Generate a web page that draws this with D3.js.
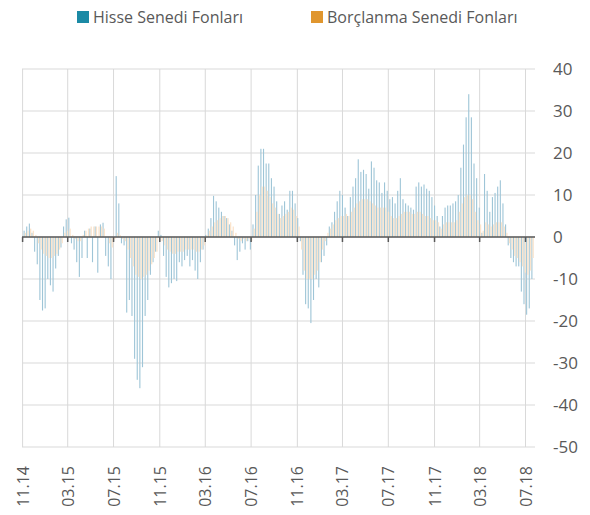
<html>
  <head>
    <script src="https://d3js.org/d3.v7.min.js"></script>
    <style>
      body { margin: 0; background: #fff; }
      text { font-family: "Open Sans", sans-serif; fill: #595959; }
    </style>
  </head>
  <body>
    <svg id="chart" width="590" height="515"></svg>
    <script>
      // weekly net flows, Hisse Senedi Fonlari (equity funds)
      const hisse = [
        1.5, 2.5, 3.2, 1, -3.5, -6.5, -15, -17.5, -17, -10,
        -11.5, -13, -7.5, -4.5, -2.5, 2.5, 4.2, 4.6, -1.5, -3,
        -6, -9.5, -5, 1.5, -5, 2, -6, 2.5, -8.5, 3,
        3.4, -4.5, -7, -10, -1, 14.5, 8, -1.5, -2, -18,
        -15, -18.8, -29, -34, -36, -31, -18.8, -15, -9, -6,
        -3.5, 1.5, 0.5, -4.5, -9.5, -12, -11, -10, -10.5, -6,
        -7, -5.5, -4.5, -7, -5.5, -8, -10, -6, -3, 0.5,
        2, 4.5, 9.8, 8.5, 7, 6, 5, 4.5, 3, 1.5,
        -2, -5.5, -3.5, -1.5, -3, -1, -3, 3, 10, 17,
        21, 21, 17.5, 17.5, 14, 12, 8.5, 5.5, 7.5, 8.5,
        6.5, 11, 11, 8, 4.5, -1, -9, -16, -17, -20.5,
        -15, -10, -12, -6, -4.5, -2, 2.5, 3.5, 6, 8.5,
        11, 10, 7, 5, 9.5, 12, 14, 18.5, 15.5, 16,
        15, 11.5, 18, 16.5, 13.5, 13, 10.5, 13, 11, 9,
        9.5, 8, 11, 14, 9, 8, 7.5, 7, 6.5, 12,
        13, 12, 12.5, 11.5, 11, 9.5, 7.5, 5, 2.5, 5,
        7, 7.5, 7.5, 8, 8.5, 10, 16.5, 22, 28.5, 34,
        28.5, 17.5, 14, 7, 1, 15, 11, 6, 9.5, 10.5,
        12, 13.5, 8, 3, -2, -5, -6, -7, -7, -13,
        -16, -18.5, -17, -10
      ];

      // weekly net flows, Borclanma Senedi Fonlari (debt funds)
      const borclanma = [
        1, 1.5, 2, 1.5, 0.5, -1.5, -3, -4, -4.5, -5,
        -5, -4.5, -4, -3, -1.5, 1, 1.5, 2, 0.5, -0.5,
        -1, -1, 0.5, 1.5, 2, 2.5, 2.5, 2.5, 2.5, 2.5,
        2, 0, -1.5, -2.5, -0.5, 1, 0.5, -0.5, -1, -3,
        -5, -7, -9, -9.5, -10, -9.5, -9, -8, -6.5, -5,
        -3.5, -1, -1, -2, -3, -3.5, -4, -4, -3.5, -3.5,
        -3.5, -3, -3, -3, -3, -3.5, -3.5, -3, -2, 0.5,
        1.5, 2.5, 3.5, 4, 4.5, 5, 5, 4.5, 3.5, 2.5,
        1, -0.5, -1, -0.5, -1, -0.5, -1, 2, 6, 10,
        12, 12, 11, 9.5, 8, 7, 5.5, 4.5, 5, 5.5,
        6, 7, 6.5, 5, 2.5, -3, -8, -10, -10, -10,
        -9, -8, -6, -3, -1, 1, 2, 3, 4, 4.5,
        5, 5, 5.5, 5, 6, 7, 8, 8.5, 9, 9,
        9, 8.5, 8, 7.5, 7, 7, 7, 7, 6, 5,
        4.5, 4.5, 5, 5.5, 6, 6, 6, 5.5, 5.5, 6,
        6, 5.5, 5, 5, 4.5, 4, 4, 3.5, 2, 3,
        3.5, 3.5, 3.5, 3.5, 4, 6, 8, 9.5, 10, 10,
        9, 6, 4, 3, 1.5, 3.5, 3, 2.5, 3, 3.5,
        3.5, 3.5, 2.5, 1, -1.5, -3, -4.5, -5, -6, -7,
        -8.5, -9, -8, -5
      ];

      // one bar pair per week (Fridays), starting 7 Nov 2014
      const weeks = d3.timeFriday
        .range(new Date(2014, 10, 7), new Date(2018, 7, 1))
        .slice(0, hisse.length);

      const xTicks = [
        "11.14", "03.15", "07.15", "11.15", "03.16", "07.16",
        "11.16", "03.17", "07.17", "11.17", "03.18", "07.18"
      ];
      const yTicks = [40, 30, 20, 10, 0, -10, -20, -30, -40, -50];
      const seriesNames = ["Hisse Senedi Fonları", "Borçlanma Senedi Fonları"];

      const svg = d3.select("#chart");
      const plot = { left: 22, right: 535, top: 69, bottom: 447 };

      const parseTick = d3.timeParse("%m.%y");
      const x = d3
        .scaleTime()
        .domain([new Date(2014, 10, 1), new Date(2018, 6, 1)])
        .range([22.6, 525.5]);
      const y = d3.scaleLinear().domain([-50, 40]).range([plot.bottom, plot.top]);

      // gridlines
      svg
        .selectAll("line.hgrid")
        .data(yTicks)
        .join("line")
        .attr("class", "hgrid")
        .attr("x1", plot.left)
        .attr("x2", plot.right)
        .attr("y1", (d) => y(d))
        .attr("y2", (d) => y(d))
        .attr("stroke", "#d9d9d9")
        .attr("stroke-width", 1);

      svg
        .selectAll("line.vgrid")
        .data(xTicks)
        .join("line")
        .attr("class", "vgrid")
        .attr("x1", (d) => x(parseTick(d)))
        .attr("x2", (d) => x(parseTick(d)))
        .attr("y1", plot.top)
        .attr("y2", plot.bottom)
        .attr("stroke", "#d9d9d9")
        .attr("stroke-width", 1);

      // bars: equity on the left half of each week, debt on the right half
      const bars = svg.append("g");
      bars
        .selectAll("rect.h")
        .data(hisse)
        .join("rect")
        .attr("class", "h")
        .attr("x", (d, i) => x(weeks[i]) - 1.3)
        .attr("width", 1.1)
        .attr("y", (d) => Math.min(y(d), y(0)))
        .attr("height", (d) => Math.abs(y(d) - y(0)))
        .attr("fill", "#9ec5d7");

      bars
        .selectAll("rect.b")
        .data(borclanma)
        .join("rect")
        .attr("class", "b")
        .attr("x", (d, i) => x(weeks[i]) - 0.1)
        .attr("width", 1.3)
        .attr("y", (d) => Math.min(y(d), y(0)))
        .attr("height", (d) => Math.abs(y(d) - y(0)))
        .attr("fill", "#fbe4cc");

      // zero axis with tick marks
      svg
        .append("line")
        .attr("x1", plot.left)
        .attr("x2", plot.right)
        .attr("y1", y(0))
        .attr("y2", y(0))
        .attr("stroke", "#595959")
        .attr("stroke-width", 1.5);

      svg
        .selectAll("line.xtick")
        .data(xTicks)
        .join("line")
        .attr("class", "xtick")
        .attr("x1", (d) => x(parseTick(d)))
        .attr("x2", (d) => x(parseTick(d)))
        .attr("y1", y(0))
        .attr("y2", y(0) + 5)
        .attr("stroke", "#595959")
        .attr("stroke-width", 1.5);

      // y labels on the right
      svg
        .selectAll("text.ylab")
        .data(yTicks)
        .join("text")
        .attr("class", "ylab")
        .attr("x", 553)
        .attr("y", (d) => y(d))
        .attr("dy", "0.35em")
        .attr("font-size", 17)
        .text((d) => d);

      // x labels, rotated
      svg
        .selectAll("text.xlab")
        .data(xTicks)
        .join("text")
        .attr("class", "xlab")
        .attr("text-anchor", "end")
        .attr("font-size", 16)
        .attr("transform", (d) => "translate(" + (x(parseTick(d)) + 6) + ",466) rotate(-90)")
        .text((d) => d);

      // legend
      const legendX = [77, 311];
      const legendColors = ["#1b8aa5", "#e0962e"];
      const legend = svg
        .selectAll("g.legend")
        .data(seriesNames)
        .join("g")
        .attr("class", "legend")
        .attr("transform", (d, i) => "translate(" + legendX[i] + ",0)");
      legend
        .append("rect")
        .attr("y", 11)
        .attr("width", 12)
        .attr("height", 12)
        .attr("fill", (d, i) => legendColors[i]);
      legend
        .append("text")
        .attr("x", 16)
        .attr("y", 22.5)
        .attr("font-size", 16)
        .text((d) => d);
    </script>
  </body>
</html>
